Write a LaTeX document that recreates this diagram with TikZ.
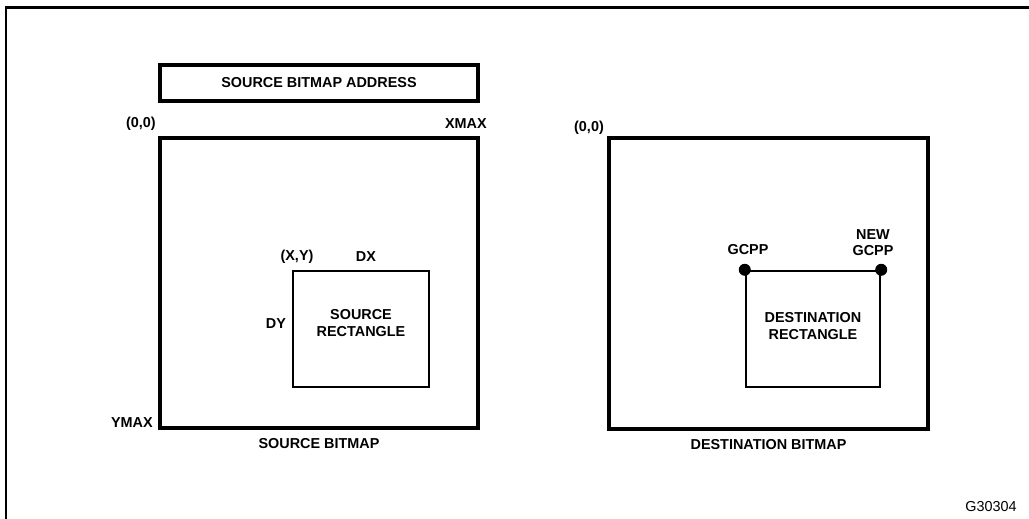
\documentclass[tikz,border=0pt]{standalone}
\usepackage{fontspec}
\setmainfont{Liberation Sans}
\usetikzlibrary{positioning}

\begin{document}
\begin{tikzpicture}[
  x=0.02cm, y=-0.02cm,
  every node/.style={
    font=\fontsize{8.2}{9.2}\selectfont\bfseries,
    text=black
  },
  lbl/.style={
    inner sep=0pt,
    align=center
  },
  bitmap/.style={
    draw=black,
    line width=2.6pt,
    rectangle,
    inner sep=0pt
  },
  subrect/.style={
    draw=black,
    line width=1.4pt,
    rectangle,
    align=center,
    inner sep=0pt
  },
  frame/.style={
    draw=black,
    line width=1.7pt
  },
  corner/.style={
    fill=black
  }
]
  \useasboundingbox (0,0) rectangle (1029,519);

  % page frame, open to the right and below
  \coordinate (frametl) at (6,8);
  \coordinate (framebl) at (6,519);
  \coordinate (frametr) at (1029,8);
  \draw[frame] (framebl) -- (frametl) -- (frametr);

  % source side
  \node[bitmap, minimum width=6.36cm, minimum height=0.72cm] (address)
    at (319,83) {SOURCE BITMAP ADDRESS};
  \node[bitmap, minimum width=6.36cm, minimum height=5.8cm] (srcmap)
    at (319,283) {};
  \node[subrect, minimum width=2.72cm, minimum height=2.32cm] (srcrect)
    at (361,329) {};
  \node[lbl] (srctext) at (361,323) {SOURCE\\RECTANGLE};

  \node[lbl, anchor=east] (srcorigin) at (156,124) {(0,0)};
  \node[lbl, anchor=east] (xmax) at (487,124) {XMAX};
  \node[lbl, anchor=east] (ymax) at (153,423) {YMAX};
  \node[lbl] (xy) at (297,257) {(X,Y)};
  \node[lbl] (dx) at (366,257) {DX};
  \node[lbl] (dy) at (276,324) {DY};
  \node[lbl, below=4.5pt of srcmap] (srcname) {SOURCE BITMAP};

  % destination side
  \node[bitmap, minimum width=6.38cm, minimum height=5.82cm] (dstmap)
    at (768.5,283.5) {};
  \node[subrect, minimum width=2.68cm, minimum height=2.32cm] (dstrect)
    at (813,329) {};
  \node[lbl] (dsttext) at (813,326) {DESTINATION\\RECTANGLE};

  \node[lbl] (dstorigin) at (589,128) {(0,0)};
  \node[lbl] (gcpp) at (748,250) {GCPP};
  \node[lbl] (newgcpp) at (873,243) {NEW\\GCPP};
  \fill[corner] (dstrect.north west) circle[radius=1.2mm];
  \fill[corner] (dstrect.north east) circle[radius=1.2mm];
  \node[lbl, below=4.5pt of dstmap] (dstname) {DESTINATION BITMAP};

  \node[lbl] (figno) at (991,507) {\mdseries G30304};
\end{tikzpicture}
\end{document}
